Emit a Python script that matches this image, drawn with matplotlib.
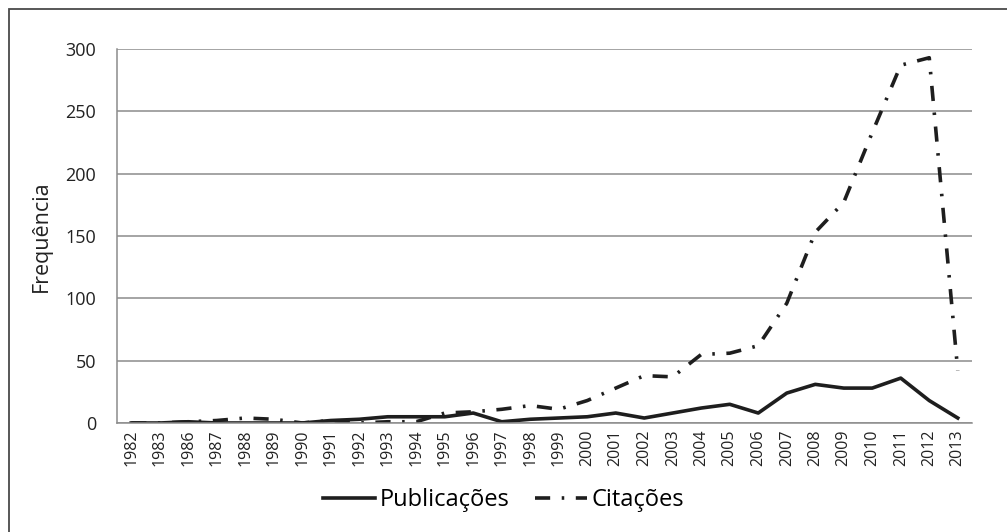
import matplotlib
matplotlib.use("Agg")
import matplotlib.pyplot as plt
from matplotlib.patches import Rectangle
import numpy as np

plt.rcParams['font.family'] = ['Open Sans', 'DejaVu Sans']

anos = ['1982', '1983', '1986', '1987', '1988', '1989', '1990', '1991', '1992', '1993',
        '1994', '1995', '1996', '1997', '1998', '1999', '2000', '2001', '2002', '2003',
        '2004', '2005', '2006', '2007', '2008', '2009', '2010', '2011', '2012', '2013']
publicacoes = [0, 0, 1, 0, 0, 0, 0, 2, 3, 5,
               5, 5, 8, 1, 3, 4, 5, 8, 4, 8,
               12, 15, 8, 24, 31, 28, 28, 36, 18, 4]
citacoes = [0, 0, 1, 2, 4, 3, 0, 2, 0, 1,
            1, 8, 9, 11, 14, 11, 18, 28, 38, 37,
            55, 56, 62, 96, 153, 177, 233, 287, 293, 42]
yticks = [0, 50, 100, 150, 200, 250, 300]

W, H = 1007, 532
fig = plt.figure(figsize=(W / 100, H / 100), dpi=100)
ax = fig.add_axes([117 / W, 1 - 423 / H, (972 - 117) / W, (423 - 49) / H])

grid_col = '#8c8c8c'
line_col = '#1e1e1e'
x = np.arange(len(anos))

ax.plot(x, publicacoes, color=line_col, lw=2.6, label='Publicações',
        solid_joinstyle='round')
cit, = ax.plot(x, citacoes, color=line_col, lw=2.6, label='Citações')
cit.set_dashes((4.2, 3.2, 0.7, 3.2))

ax.set_xlim(-0.5, len(anos) - 0.5)
ax.set_ylim(0, 300)
ax.set_yticks(yticks)
ax.yaxis.grid(True, color=grid_col, lw=1.1)
ax.set_axisbelow(True)
ax.set_xticks(x)
ax.set_xticklabels(anos, rotation=90, fontsize=11.5, color='#222222')
ax.tick_params(axis='x', length=0, pad=5)
ax.tick_params(axis='y', length=0, pad=15, labelsize=13, labelcolor='#222222')

for s in ['top', 'right']:
    ax.spines[s].set_visible(False)
for s in ['left', 'bottom']:
    ax.spines[s].set_color(grid_col)
    ax.spines[s].set_linewidth(1.1)

ax.set_ylabel('Frequência', fontsize=15.5, color='#222222')
ax.yaxis.set_label_coords(-(117 - 52) / (972 - 117), 0.5)

fig.legend(loc='center', bbox_to_anchor=(0.5, 1 - 500 / H), ncol=2, frameon=False,
           fontsize=17, handlelength=2.2, handletextpad=0.2, columnspacing=1.1)

border = Rectangle((8.5 / W, -0.1), 1.2, 1.1 - 9 / H, transform=fig.transFigure,
                   fill=False, edgecolor='#4a4a4a', lw=1.3)
fig.patches.append(border)

fig.savefig('out.png', dpi=100)
